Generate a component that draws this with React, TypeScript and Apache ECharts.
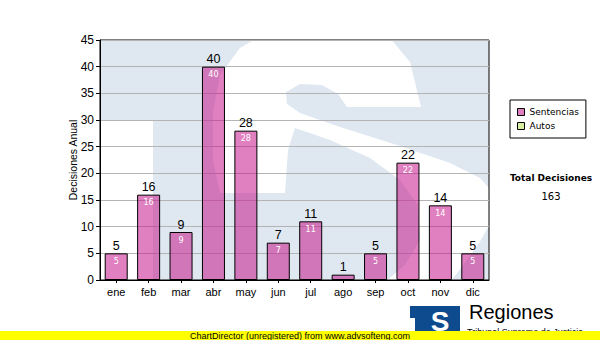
import React, { useEffect, useRef } from "react";
import * as echarts from "echarts";

const months = ["ene", "feb", "mar", "abr", "may", "jun", "jul", "ago", "sep", "oct", "nov", "dic"];
const sentencias = [5, 16, 9, 40, 28, 7, 11, 1, 5, 22, 14, 5];
const autos: number[] = [];
const seriesNames = ["Sentencias", "Autos"];
const yMin = 0;
const yMax = 45;
const yStep = 5;

// decorative "S" outline of the watermark logo (page pixels)
const sOutline = [
  [213, 112], [220, 75], [240, 48], [270, 30], [310, 22], [355, 24], [390, 38], [410, 62],
  [421, 107], [347, 107], [338, 94], [322, 85], [300, 84], [286, 92], [287, 104], [300, 113],
  [340, 127], [400, 146], [450, 163], [480, 178], [495, 195], [495, 215], [478, 245], [458, 272],
  [440, 295], [400, 320], [340, 330], [300, 328], [300, 292], [340, 292], [385, 282], [405, 265],
  [420, 240], [418, 205], [400, 180], [370, 158], [330, 140], [295, 128], [288, 150], [285, 193],
  [220, 193], [213, 160],
];

const AX_FONT = '"Liberation Sans", Arial, sans-serif';
const V_FONT = '"DejaVu Sans", Verdana, sans-serif';

export default function App() {
  const ref = useRef<HTMLDivElement>(null);
  useEffect(() => {
    if (!ref.current) return;
    const chart = echarts.init(ref.current, undefined, { renderer: "svg" });
    const total = sentencias.reduce((a, b) => a + b, 0);
    chart.setOption({
      animation: false,
      backgroundColor: "#ffffff",
      grid: {
        left: 100,
        right: 111,
        top: 40,
        bottom: 60,
        show: true,
        borderColor: "#000",
        borderWidth: 1,
        backgroundColor: "transparent",
        containLabel: false,
      },
      legend: {
        orient: "vertical",
        left: 510,
        top: 100,
        data: [
          { name: seriesNames[0], itemStyle: { color: "#de80c0", borderColor: "#000", borderWidth: 1 } },
          { name: seriesNames[1], itemStyle: { color: "#d8efa0", borderColor: "#000", borderWidth: 1 } },
        ],
        icon: "rect",
        itemWidth: 7,
        itemHeight: 7,
        itemGap: 2,
        itemTextGap: 4,
        padding: [6, 7, 6, 7],
        borderColor: "#000",
        borderWidth: 1,
        textStyle: { fontFamily: V_FONT, fontSize: 9, color: "#000", lineHeight: 12 },
        selectedMode: false,
      },
      xAxis: {
        type: "category",
        data: months,
        axisLine: { lineStyle: { color: "#000", width: 1 } },
        axisTick: { show: true, alignWithLabel: true, length: 3, lineStyle: { color: "#000" } },
        axisLabel: { fontFamily: AX_FONT, fontSize: 11, color: "#000", margin: 6 },
        splitLine: { show: false },
      },
      yAxis: {
        type: "value",
        min: yMin,
        max: yMax,
        interval: yStep,
        name: "Decisiones Anual",
        nameLocation: "middle",
        nameGap: 22,
        nameMoveOverlap: false,
        nameTextStyle: { fontFamily: AX_FONT, fontSize: 10.5, color: "#000" },
        axisLine: { show: true, lineStyle: { color: "#000", width: 1 } },
        axisTick: { show: true, length: 4, lineStyle: { color: "#000" } },
        axisLabel: { fontFamily: AX_FONT, fontSize: 12, color: "#000", margin: 6 },
        splitLine: { show: true, lineStyle: { color: "#b4b4b4", width: 1 } },
      },
      series: [
        {
          name: seriesNames[0],
          type: "bar",
          data: sentencias,
          barWidth: 23,
          barGap: "-100%",
          itemStyle: { color: "rgba(200,28,142,0.56)", borderColor: "#000", borderWidth: 1 },
          label: {
            show: true,
            position: "top",
            distance: 1,
            fontFamily: AX_FONT,
            fontSize: 12.5,
            color: "#000",
          },
          z: 3,
        },
        {
          name: "SentenciasInterior",
          type: "bar",
          data: sentencias,
          barWidth: 23,
          barGap: "-100%",
          itemStyle: { color: "transparent", borderWidth: 0 },
          label: {
            show: true,
            position: "insideTop",
            distance: 4,
            fontFamily: V_FONT,
            fontSize: 8,
            color: "#fff",
            formatter: (p: any) => (p.value >= 3 ? String(p.value) : ""),
          },
          silent: true,
          z: 4,
        },
        {
          name: seriesNames[1],
          type: "bar",
          data: autos,
          barWidth: 23,
          barGap: "-100%",
          itemStyle: { color: "#d8efa0", borderColor: "#000", borderWidth: 1 },
        },
      ],
      graphic: [
        // watermark
        { type: "rect", z: -10, silent: true, shape: { x: 100, y: 40, width: 389, height: 240 }, style: { fill: "#dfe8f1" } },
        { type: "rect", z: -9, silent: true, shape: { x: 100, y: 120, width: 53, height: 160 }, style: { fill: "#ffffff" } },
        { type: "polygon", z: -9, silent: true, shape: { points: sOutline }, style: { fill: "#ffffff" } },
        // mask outside plot area
        { type: "rect", z: -8, silent: true, shape: { x: 490, y: 0, width: 110, height: 340 }, style: { fill: "#ffffff" } },
        { type: "rect", z: -8, silent: true, shape: { x: 0, y: 281, width: 600, height: 59 }, style: { fill: "#ffffff" } },
        { type: "rect", z: -8, silent: true, shape: { x: 0, y: 0, width: 600, height: 40 }, style: { fill: "#ffffff" } },
        // totals
        {
          type: "text", z: 100, x: 551, y: 178,
          style: { text: "Total Decisiones", font: `bold 9px ${V_FONT}`, fill: "#000", textAlign: "center", textVerticalAlign: "middle" },
        },
        {
          type: "text", z: 100, x: 551, y: 196,
          style: { text: String(total), font: `10px ${V_FONT}`, fill: "#000", textAlign: "center", textVerticalAlign: "middle" },
        },
        // logo
        { type: "rect", z: 100, shape: { x: 410, y: 306, width: 50, height: 25 }, style: { fill: "#0d4b8e" } },
        { type: "rect", z: 101, shape: { x: 410, y: 318, width: 5, height: 13 }, style: { fill: "#ffffff" } },
        {
          type: "text", z: 101, x: 440, y: 307,
          style: { text: "S", font: `bold 28px ${AX_FONT}`, fill: "#ffffff", textAlign: "center", textVerticalAlign: "top" },
        },
        {
          type: "text", z: 100, x: 469, y: 322,
          style: { text: "Regiones", font: `20px ${AX_FONT}`, fill: "#000", textAlign: "left", textVerticalAlign: "bottom" },
        },
        {
          type: "text", z: 100, x: 467, y: 327,
          style: { text: "Tribunal Supremo de Justicia", font: `9px ${AX_FONT}`, fill: "#000", textAlign: "left", textVerticalAlign: "top" },
        },
        // unregistered banner
        { type: "rect", z: 110, shape: { x: 0, y: 331, width: 600, height: 9 }, style: { fill: "#ffff00" } },
        {
          type: "text", z: 111, x: 190, y: 335.5,
          style: { text: "ChartDirector (unregistered) from www.advsofteng.com", font: `9px ${AX_FONT}`, fill: "#000", textAlign: "left", textVerticalAlign: "middle" },
        },
      ],
    });
    return () => chart.dispose();
  }, []);
  return (
    <div
      ref={ref}
      style={{ position: "fixed", left: 0, top: 0, width: 600, height: 340 }}
    />
  );
}
